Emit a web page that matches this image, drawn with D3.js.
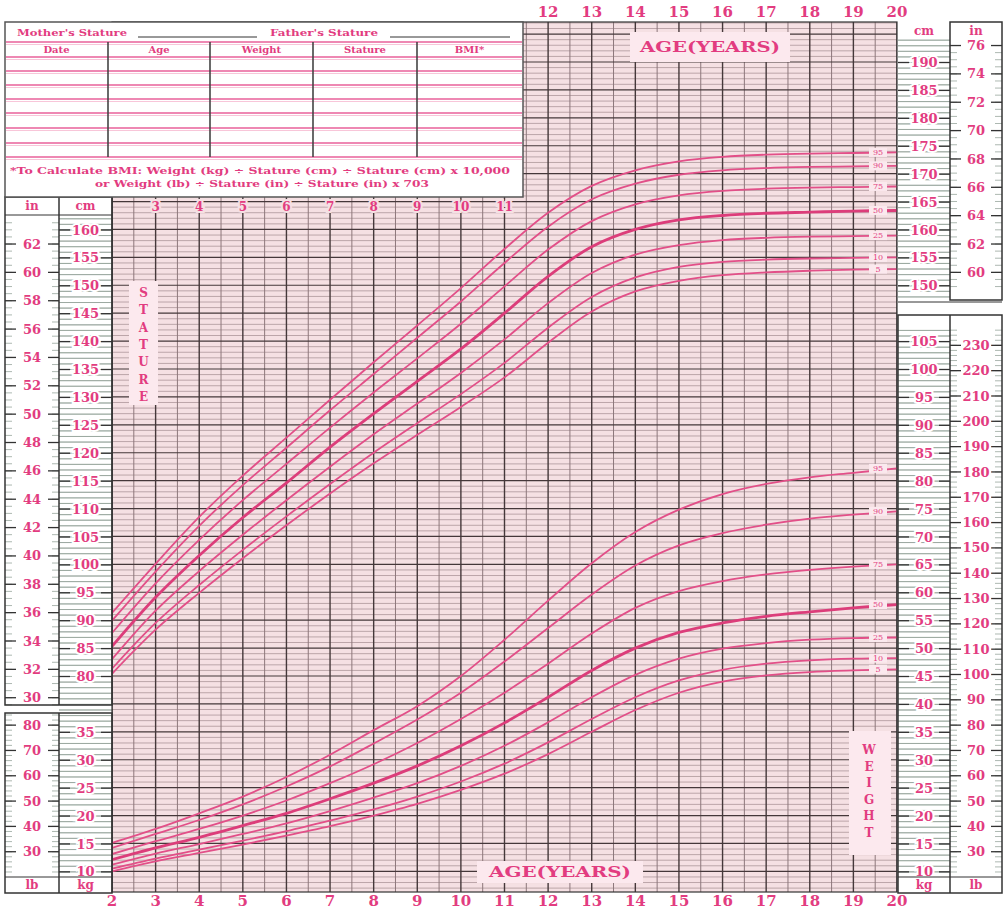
<!DOCTYPE html>
<html><head><meta charset="utf-8">
<script src="https://cdn.jsdelivr.net/npm/d3@7"></script>
<style>body{margin:0;background:#fff}svg{display:block}</style>
</head><body>
<svg id="c" width="1006" height="912"></svg>
<script>
// ---------------- DATA ----------------
const ages = [2,3,4,5,6,7,8,9,10,11,12,13,14,15,16,17,18,19,20];
const percentiles = ["5","10","25","50","75","90","95"];
const stature5  = [80.4,88.3,94.9,101.1,107.0,112.7,118.1,123.2,128.2,133.5,139.7,145.3,148.9,150.8,151.8,152.3,152.6,152.8,152.9];
const stature10 = [81.3,89.5,96.3,102.6,108.6,114.4,120.0,125.3,130.5,136.1,142.4,147.9,151.4,153.3,154.2,154.6,154.8,154.9,155.0];
const stature25 = [83.0,91.7,98.8,105.3,111.5,117.5,123.3,128.8,134.3,140.3,146.8,152.2,155.5,157.2,158.1,158.5,158.7,158.8,158.9];
const stature50 = [85.3,94.1,101.6,108.4,114.6,121.0,127.0,132.8,138.6,145.0,151.6,156.9,160.0,161.7,162.5,162.9,163.1,163.3,163.4];
const stature75 = [87.7,96.6,104.4,111.5,118.0,124.5,130.8,136.9,143.1,149.8,156.4,161.5,164.5,166.1,166.9,167.3,167.5,167.6,167.7];
const stature90 = [89.9,98.7,106.9,114.2,120.9,127.6,134.1,140.6,147.1,154.0,160.5,165.4,168.2,169.8,170.6,171.0,171.2,171.3,171.4];
const stature95 = [91.3,100.1,108.5,115.9,122.7,129.5,136.2,142.8,149.5,156.5,163.0,167.8,170.6,172.2,173.0,173.4,173.6,173.7,173.8];
const weight5  = [10.0,11.8,13.3,14.8,16.4,18.1,20.0,22.1,24.6,27.5,31.0,35.0,38.9,42.0,44.0,45.1,45.7,46.0,46.2];
const weight10 = [10.5,12.3,13.9,15.5,17.2,19.1,21.1,23.4,26.1,29.3,33.1,37.3,41.2,44.2,46.1,47.2,47.8,48.1,48.2];
const weight25 = [11.2,13.2,14.9,16.7,18.6,20.8,23.2,25.8,28.9,32.5,36.7,41.2,45.2,48.1,49.9,50.9,51.5,51.8,51.9];
const weight50 = [12.1,14.2,16.1,18.2,20.4,23.0,25.8,28.9,32.5,36.6,41.2,46.0,50.0,52.8,54.5,55.7,56.5,57.2,57.8];
const weight75 = [13.1,15.4,17.6,20.0,22.7,25.8,29.2,33.0,37.3,42.0,47.2,52.6,57.2,60.2,62.0,63.2,64.0,64.6,65.0];
const weight90 = [14.2,16.7,19.2,22.0,25.2,28.8,32.9,37.2,42.0,47.6,53.6,59.6,64.8,68.4,70.6,72.1,73.2,73.9,74.5];
const weight95 = [15.1,17.6,20.4,23.4,26.9,30.9,35.3,39.6,45.0,51.5,58.5,65.2,70.8,74.8,77.6,79.4,80.6,81.4,82.2];
const ageTicksTop = [12,13,14,15,16,17,18,19,20];
const ageTicksInner = [3,4,5,6,7,8,9,10,11];
const ageTicksBottom = [2,3,4,5,6,7,8,9,10,11,12,13,14,15,16,17,18,19,20];
const cmTicksLeft = [80,85,90,95,100,105,110,115,120,125,130,135,140,145,150,155,160];
const inTicksLeft = [30,32,34,36,38,40,42,44,46,48,50,52,54,56,58,60,62];
const cmTicksRight = [150,155,160,165,170,175,180,185,190];
const inTicksRight = [60,62,64,66,68,70,72,74,76];
const kgTicksLeft = [10,15,20,25,30,35];
const lbTicksLeft = [30,40,50,60,70,80];
const kgTicksRight = [10,15,20,25,30,35,40,45,50,55,60,65,70,75,80,85,90,95,100,105];
const lbTicksRight = [30,40,50,60,70,80,90,100,110,120,130,140,150,160,170,180,190,200,210,220,230];
const tableHeaders = ["Date","Age","Weight","Stature","BMI*"];
const staturePct = [stature5,stature10,stature25,stature50,stature75,stature90,stature95];
const weightPct = [weight5,weight10,weight25,weight50,weight75,weight90,weight95];

// ---------------- SETUP ----------------
const svg = d3.select("#c");
const PINK = "#e23c80", CURVE = "#e24f88", DARK = "#45383a";
const SERIF = "'DejaVu Serif', 'Liberation Serif', serif";
const x = d3.scaleLinear().domain([2,20]).range([112,897]);
const yS = d3.scaleLinear().domain([80,190]).range([676,62]);
const yW = d3.scaleLinear().domain([10,105]).range([yS(45), yS(140)]);
const yIn = d3.scaleLinear().domain([30,76]).range([yS(30*2.54), yS(76*2.54)]);
const yLb = d3.scaleLinear().domain([20,240]).range([yW(20*0.45359237), yW(240*0.45359237)]);
const GX0 = 112, GX1 = 897, GY0 = 22, GY1 = 892;

function txt(g, xx, yy, s, size, opt={}) {
  const t = g.append("text").attr("x", xx).attr("y", yy).text(s)
    .attr("font-family", opt.family || SERIF).attr("font-weight", opt.weight || "bold")
    .attr("font-size", size).attr("fill", opt.fill || PINK)
    .attr("text-anchor", opt.anchor || "middle").attr("dominant-baseline", "central");
  if (opt.len) t.attr("textLength", opt.len).attr("lengthAdjust", "spacingAndGlyphs");
  if (opt.halo) t.attr("stroke", opt.halo).attr("stroke-width", 4).attr("paint-order", "stroke");
  return t;
}

// ---------------- GRID ----------------
svg.append("defs").append("clipPath").attr("id","gclip").append("rect")
  .attr("x",GX0).attr("y",GY0).attr("width",GX1-GX0).attr("height",GY1-GY0);
const grid = svg.append("g").attr("clip-path","url(#gclip)");
grid.append("rect").attr("x",GX0).attr("y",GY0).attr("width",GX1-GX0).attr("height",GY1-GY0).attr("fill","#f5e0e3");
const cmLines = d3.range(40,199);
grid.selectAll(".hf").data(cmLines.filter(c=>c%5!==0)).join("line")
  .attr("x1",GX0).attr("x2",GX1).attr("y1",d=>yS(d)).attr("y2",d=>yS(d))
  .attr("stroke","#a89196").attr("stroke-width",0.75);
grid.selectAll(".hv").data(d3.range(2.5,20,1)).join("line")
  .attr("x1",d=>x(d)).attr("x2",d=>x(d)).attr("y1",GY0).attr("y2",GY1)
  .attr("stroke","#8d777b").attr("stroke-width",1);
grid.selectAll(".hd").data(cmLines.filter(c=>c%5===0)).join("line")
  .attr("x1",GX0).attr("x2",GX1).attr("y1",d=>yS(d)).attr("y2",d=>yS(d))
  .attr("stroke",DARK).attr("stroke-width",1.2);
grid.selectAll(".vd").data(d3.range(2,21,1)).join("line")
  .attr("x1",d=>x(d)).attr("x2",d=>x(d)).attr("y1",GY0).attr("y2",GY1)
  .attr("stroke",DARK).attr("stroke-width",1.4);

// ---------------- CURVES ----------------
const curves = svg.append("g").attr("clip-path","url(#gclip)");
function drawSet(sets, ys) {
  sets.forEach((vals,i) => {
    const line = d3.line().x((d,j)=>x(ages[j])).y(d=>ys(d)).curve(d3.curveCatmullRom.alpha(0.5));
    curves.append("path").datum(vals).attr("d", line).attr("fill","none")
      .attr("stroke", percentiles[i]==="50" ? "#dc3d7a" : CURVE)
      .attr("stroke-width", percentiles[i]==="50" ? 2.8 : 1.8);
  });
  sets.forEach((vals,i) => {
    const yy = ys(vals[vals.length-1]);
    curves.append("rect").attr("x",869).attr("y",yy-4.5).attr("width",18).attr("height",9).attr("fill","#fbe9ee");
    txt(curves, 878, yy, percentiles[i], 8, {weight:"normal"});
  });
}
drawSet(staturePct, yS);
drawSet(weightPct, yW);

// ---------------- TITLE BOXES ----------------
const lab = svg.append("g");
lab.append("rect").attr("x",630).attr("y",32).attr("width",160).attr("height",30).attr("fill","#fce9ee");
txt(lab, 710, 47, "AGE(YEARS)", 15, {len:140});
lab.append("rect").attr("x",477).attr("y",861).attr("width",166).attr("height",22).attr("fill","#fce9ee");
txt(lab, 560, 872, "AGE(YEARS)", 15, {len:142});
lab.append("rect").attr("x",129).attr("y",281).attr("width",29).attr("height",124).attr("fill","#fce9ee");
"STATURE".split("").forEach((c,i)=>txt(lab, 143.5, 293+i*17.3, c, 12));
lab.append("rect").attr("x",849).attr("y",731).attr("width",42).attr("height",124).attr("fill","#fce9ee");
"WEIGHT".split("").forEach((c,i)=>txt(lab, 869, 750+i*16.6, c, 12));

// ---------------- AGE LABELS ----------------
ageTicksTop.forEach(a=>txt(svg, x(a), 12, String(a), 15));
ageTicksBottom.forEach(a=>txt(svg, x(a), 901, String(a), 15));
ageTicksInner.forEach(a=>txt(svg, x(a), 207, String(a), 12, {halo:"#f5e0e3"}));

// ---------------- SIDE COLUMNS ----------------
function column(scale, x0, x1, major, minorVals, yTop, yBot, fullMinor) {
  const g = svg.append("g");
  g.append("rect").attr("x",x0).attr("y",yTop).attr("width",x1-x0).attr("height",yBot-yTop).attr("fill","#fff");
  const w = x1 - x0;
  const mlen = fullMinor ? w : 7;
  const a1 = g.append("g").attr("transform",`translate(${x0},0)`)
    .call(d3.axisRight(scale).tickValues(minorVals).tickSize(fullMinor ? w : mlen).tickFormat(""));
  const a2 = g.append("g").attr("transform",`translate(${x1},0)`)
    .call(d3.axisLeft(scale).tickValues(minorVals).tickSize(mlen).tickFormat(""));
  [a1,a2].forEach(a=>{a.select(".domain").remove(); a.selectAll("line").attr("stroke","#98a69d").attr("stroke-width",0.8);});
  const b1 = g.append("g").attr("transform",`translate(${x0},0)`)
    .call(d3.axisRight(scale).tickValues(major).tickSize(11).tickFormat(""));
  const b2 = g.append("g").attr("transform",`translate(${x1},0)`)
    .call(d3.axisLeft(scale).tickValues(major).tickSize(11).tickFormat(d=>d));
  [b1,b2].forEach(a=>{a.select(".domain").remove(); a.selectAll("line").attr("stroke","#333").attr("stroke-width",1.3);});
  b2.selectAll("text").attr("x", -w/2).attr("text-anchor","middle").attr("dy","0.35em")
    .attr("font-family",SERIF).attr("font-weight","bold").attr("font-size",13).attr("fill",PINK)
    .attr("stroke","#fff").attr("stroke-width",4).attr("paint-order","stroke");
  return g;
}
function rng(a,b,s){ return d3.range(a,b+1e-9,s); }
column(yIn, 5, 59, inTicksLeft, rng(29.5,63.5,0.5), 215, 705, false);
column(yS, 59, 112, cmTicksLeft, rng(74,163,1), 215, 705, true);
column(yLb, 5, 59, lbTicksLeft, rng(22,84,2), 713, 877, false);
column(yW, 59, 112, kgTicksLeft, rng(7,38,1), 713, 877, true);
column(yS, 898, 950, cmTicksRight, rng(148,196,1), 39, 300, true);
column(yIn, 950, 1002, inTicksRight, rng(59,77,0.5), 39, 300, false);
column(yW, 898, 950, kgTicksRight, rng(7,107,1), 315, 877, true);
column(yLb, 950, 1002, lbTicksRight, rng(22,236,2), 315, 877, false);

const hb = svg.append("g");
function box(x0,y0,x1,y1,sw){ hb.append("rect").attr("x",x0).attr("y",y0).attr("width",x1-x0).attr("height",y1-y0).attr("fill","none").attr("stroke","#333").attr("stroke-width",sw||1.5); }
function cellLabel(x0,y0,x1,y1,s){ hb.append("rect").attr("x",x0).attr("y",y0).attr("width",x1-x0).attr("height",y1-y0).attr("fill","#fff"); txt(hb,(x0+x1)/2,(y0+y1)/2,s,12); }
cellLabel(5,197,59,215,"in"); cellLabel(59,197,112,215,"cm");
cellLabel(898,22,950,39,"cm"); cellLabel(950,22,1002,39,"in");
cellLabel(5,877,59,893,"lb"); cellLabel(59,877,112,893,"kg");
cellLabel(898,877,950,893,"kg"); cellLabel(950,877,1002,893,"lb");
box(5,197,112,705); hb.append("line").attr("x1",59).attr("x2",59).attr("y1",197).attr("y2",705).attr("stroke","#333").attr("stroke-width",1.5);
hb.append("line").attr("x1",5).attr("x2",112).attr("y1",215).attr("y2",215).attr("stroke","#333");
box(5,713,112,893); hb.append("line").attr("x1",59).attr("x2",59).attr("y1",713).attr("y2",893).attr("stroke","#333").attr("stroke-width",1.5);
hb.append("line").attr("x1",5).attr("x2",112).attr("y1",877).attr("y2",877).attr("stroke","#333");
box(950,22,1002,300); hb.append("line").attr("x1",898).attr("x2",1002).attr("y1",302).attr("y2",302).attr("stroke","#333");
box(898,315,1002,893); hb.append("line").attr("x1",950).attr("x2",950).attr("y1",315).attr("y2",893).attr("stroke","#333").attr("stroke-width",1.5);
hb.append("line").attr("x1",898).attr("x2",1002).attr("y1",877).attr("y2",877).attr("stroke","#333");
box(GX0,GY0,GX1,GY1,1.2);

// ---------------- TABLE ----------------
const tb = svg.append("g");
tb.append("rect").attr("x",5).attr("y",22).attr("width",518).attr("height",175).attr("fill","#fff").attr("stroke","#555").attr("stroke-width",1.5);
txt(tb, 72, 32, "Mother's Stature", 10, {len:110});
tb.append("line").attr("x1",138).attr("x2",257).attr("y1",37).attr("y2",37).attr("stroke","#333");
txt(tb, 324, 32, "Father's Stature", 10, {len:108});
tb.append("line").attr("x1",390).attr("x2",510).attr("y1",37).attr("y2",37).attr("stroke","#333");
const rowLines = [42,57,71,85,99,113,128,143,157];
rowLines.forEach(r=>{
  tb.append("line").attr("x1",6).attr("x2",522).attr("y1",r).attr("y2",r).attr("stroke","#e8609a").attr("stroke-width",1.6);
  tb.append("line").attr("x1",6).attr("x2",522).attr("y1",r+2.5).attr("y2",r+2.5).attr("stroke","#f6b8cf").attr("stroke-width",0.8);
});
const colEdges = [5,108,210,313,417,522];
[108,210,313,417].forEach(cx=>tb.append("line").attr("x1",cx).attr("x2",cx).attr("y1",42).attr("y2",157).attr("stroke","#444").attr("stroke-width",1.6));
tableHeaders.forEach((h,i)=>txt(tb,(colEdges[i]+colEdges[i+1])/2,49.5,h,10));
txt(tb, 260, 170, "*To Calculate BMI: Weight (kg) ÷ Stature (cm) ÷ Stature (cm) x 10,000", 10, {len:500});
txt(tb, 262, 183, "or Weight (lb) ÷ Stature (in) ÷ Stature (in) x 703", 10, {len:334});
</script>
</body></html>
